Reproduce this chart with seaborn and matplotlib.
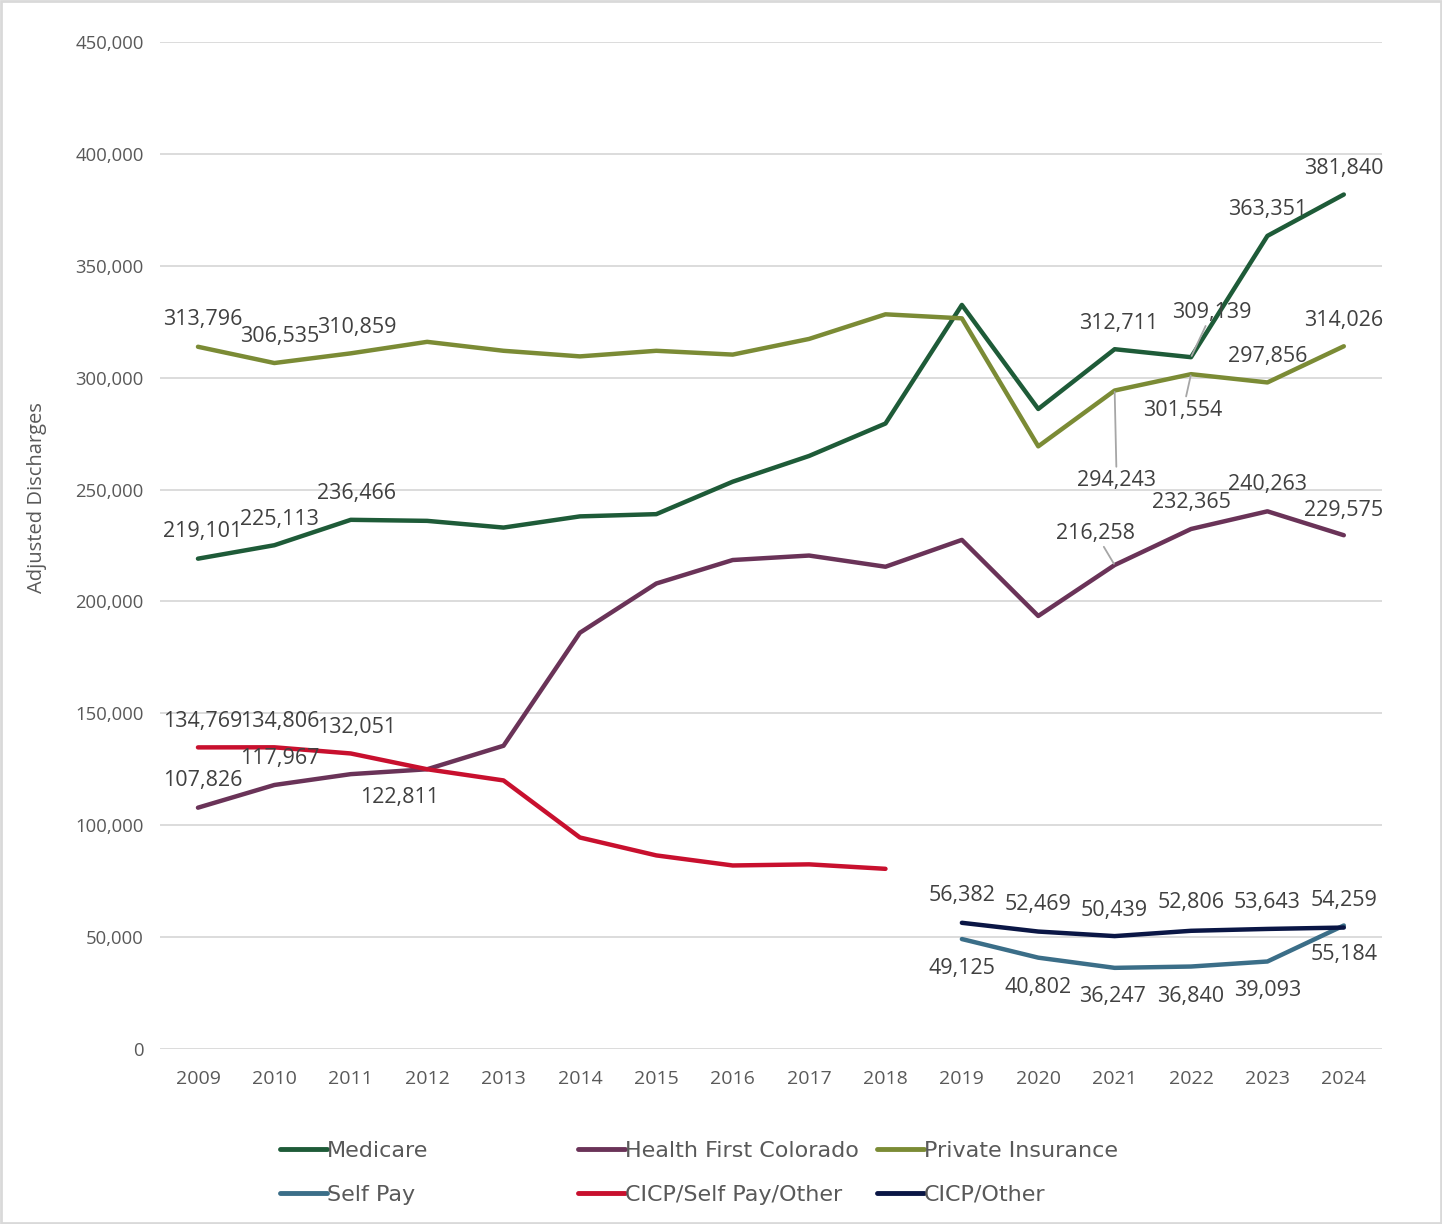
import matplotlib
matplotlib.use("Agg")
import matplotlib.pyplot as plt
from matplotlib.lines import Line2D
from matplotlib.patches import Rectangle
from matplotlib.ticker import FuncFormatter
import numpy as np
import pandas as pd
import seaborn as sns

# ---------------- data ----------------
years = list(range(2009, 2025))
nan = np.nan
medicare = [219101, 225113, 236466, 236000, 233000, 238000, 239000, 253500, 265000, 279500,
            332500, 286000, 312711, 309139, 363351, 381840]
health_first = [107826, 117967, 122811, 125000, 135500, 186000, 208000, 218500, 220500, 215500,
                227500, 193500, 216258, 232365, 240263, 229575]
private_ins = [313796, 306535, 310859, 316000, 312000, 309500, 312000, 310300, 317300, 328300,
               326500, 269300, 294243, 301554, 297856, 314026]
self_pay = [nan] * 10 + [49125, 40802, 36247, 36840, 39093, 55184]
cicp_spo = [134769, 134806, 132051, 125000, 120000, 94500, 86500, 82000, 82500, 80500] + [nan] * 6
cicp_other = [nan] * 10 + [56382, 52469, 50439, 52806, 53643, 54259]

series_names = ["Medicare", "Health First Colorado", "Private Insurance",
                "Self Pay", "CICP/Self Pay/Other", "CICP/Other"]
series_values = [medicare, health_first, private_ins, self_pay, cicp_spo, cicp_other]

colors = {
    "Medicare": "#1E5B38",
    "Health First Colorado": "#6A3358",
    "Private Insurance": "#7B8B35",
    "Self Pay": "#3B6E88",
    "CICP/Self Pay/Other": "#C8102E",
    "CICP/Other": "#0A1645",
}

# label placement (pixel offsets from the point; positive dy is up)
label_offsets = {
    "Medicare": {2009: (5, 27), 2010: (5, 26), 2011: (6, 26), 2021: (4, 26),
                 2022: (21, 45), 2023: (0, 26), 2024: (0, 26)},
    "Private Insurance": {2009: (5, 27), 2010: (5, 27), 2011: (6, 26), 2021: (2, -90),
                          2022: (-8, -36), 2023: (0, 26), 2024: (0, 26)},
    "Health First Colorado": {2009: (5, 27), 2010: (5, 26), 2011: (49, -23), 2021: (-19, 32),
                              2022: (0, 26), 2023: (0, 27), 2024: (0, 25)},
    "CICP/Self Pay/Other": {2009: (5, 26), 2010: (5, 26), 2011: (6, 26)},
    "CICP/Other": {2019: (0, 27), 2020: (0, 27), 2021: (0, 26), 2022: (0, 28),
                   2023: (0, 26), 2024: (0, 27)},
    "Self Pay": {2019: (0, -29), 2020: (0, -30), 2021: (-2, -29), 2022: (0, -30),
                 2023: (0, -29), 2024: (0, -29)},
}
leaders = {("Medicare", 2022), ("Private Insurance", 2021), ("Private Insurance", 2022),
           ("Health First Colorado", 2021)}

# ---------------- build frame ----------------
frames = []
for name, vals in zip(series_names, series_values):
    frames.append(pd.DataFrame({"Year": years, "Value": vals, "Series": name}))
df = pd.concat(frames, ignore_index=True).dropna()

# ---------------- plot ----------------
sns.set_style("white")
plt.rcParams["font.family"] = ["Open Sans", "DejaVu Sans"]

fig = plt.figure(figsize=(14.42, 12.24), dpi=100)
ax = fig.add_axes([0.1108, 0.1430, 0.8476, 0.8227])

sns.lineplot(data=df, x="Year", y="Value", hue="Series", hue_order=series_names,
             palette=colors, linewidth=3.2, legend=False, errorbar=None, ax=ax)

ax.set_xlim(2008.5, 2024.5)
ax.set_ylim(0, 450000)
ax.set_yticks(np.arange(0, 450001, 50000))
ax.set_xticks(years)
ax.yaxis.set_major_formatter(FuncFormatter(lambda v, p: f"{v:,.0f}"))
ax.grid(axis="y", color="#D9D9D9", linewidth=1.3)
ax.grid(axis="x", visible=False)
ax.set_axisbelow(True)
for s in ax.spines.values():
    s.set_visible(False)
ax.tick_params(axis="y", length=0, pad=11.5, labelsize=13.3, labelcolor="#595959")
ax.tick_params(axis="x", length=0, pad=15.5, labelsize=14, labelcolor="#595959")
ax.set_xlabel("")
ax.set_ylabel("Adjusted Discharges", fontsize=14.5, color="#595959")
ax.yaxis.set_label_coords(-0.0925, 0.548)

# data labels
for name, vals in zip(series_names, series_values):
    lookup = dict(zip(years, vals))
    for yr, (dx, dy) in label_offsets.get(name, {}).items():
        v = lookup[yr]
        kw = {}
        if (name, yr) in leaders:
            kw["arrowprops"] = dict(arrowstyle="-", color="#A6A6A6", lw=1.3,
                                    shrinkA=0, shrinkB=1)
        ax.annotate(f"{v:,.0f}", xy=(yr, v), xytext=(dx, dy), textcoords="offset pixels",
                    ha="center", va="center", fontsize=15.5, color="#404040", **kw)

# legend: three columns of two entries
legend_cols = [["Medicare", "Self Pay"],
               ["Health First Colorado", "CICP/Self Pay/Other"],
               ["Private Insurance", "CICP/Other"]]
col_x = [280 / 1442, 578 / 1442, 877 / 1442]
for names, x0 in zip(legend_cols, col_x):
    handles = [Line2D([0], [0], color=colors[n], lw=3.5) for n in names]
    leg = fig.legend(handles, names, loc="upper left", bbox_to_anchor=(x0, 1 - 1141 / 1224),
                     frameon=False, borderpad=0, borderaxespad=0, handlelength=2.1,
                     handletextpad=0.0, labelspacing=1.08,
                     prop={"family": "DejaVu Sans", "size": 16})
    for t in leg.get_texts():
        t.set_color("#595959")

# figure border
fig.patches.append(Rectangle((0.001, 0.001), 0.998, 0.998, transform=fig.transFigure,
                             fill=False, edgecolor="#D9D9D9", linewidth=2))

fig.savefig("out.png", dpi=100)
